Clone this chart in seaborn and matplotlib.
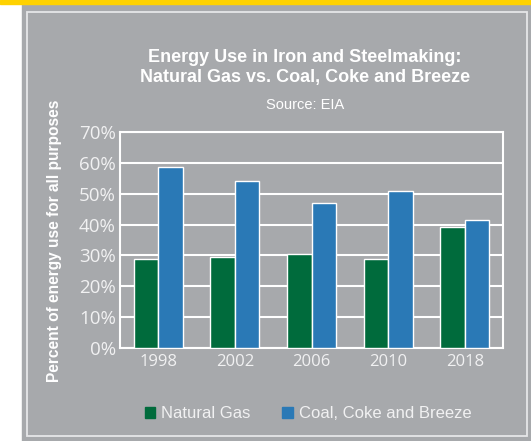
import matplotlib
matplotlib.use("Agg")
import matplotlib.pyplot as plt
import seaborn as sns
import pandas as pd
from matplotlib import font_manager
from matplotlib.patches import Rectangle
from matplotlib.ticker import PercentFormatter

# chart data
years = ["1998", "2002", "2006", "2010", "2018"]
natural_gas = [28.7, 29.5, 30.6, 28.7, 39.1]
coal_coke_breeze = [58.5, 54.0, 47.1, 50.8, 41.6]
series = ["Natural Gas", "Coal, Coke and Breeze"]

GRAY = "#a7a9ac"
GREEN = "#006b3c"
BLUE = "#2a79b6"
YELLOW = "#ffd200"

df = pd.DataFrame({
    "year": years * 2,
    "value": natural_gas + coal_coke_breeze,
    "series": [series[0]] * len(years) + [series[1]] * len(years),
})

names = {f.name for f in font_manager.fontManager.ttflist}
narrow = "Liberation Sans Narrow" in names
title_font = "Liberation Sans Narrow" if narrow else "Liberation Sans"
title_size = 15.5 if narrow else 13
src_size = 13 if narrow else 10.5

sns.set_style("ticks")
plt.rcParams["font.family"] = ["Open Sans", "DejaVu Sans"]

W, H = 531, 441
fig = plt.figure(figsize=(W / 100, H / 100), dpi=100, facecolor="white")

# panel background, yellow strip and inner border
fig.patches.append(Rectangle((22 / W, 0), (W - 22) / W, (H - 4) / H,
                             transform=fig.transFigure, color=GRAY, zorder=-2))
fig.patches.append(Rectangle((0, (H - 4) / H), 1, 4 / H,
                             transform=fig.transFigure, color=YELLOW, zorder=-2))
fig.patches.append(Rectangle((27 / W, (H - 436) / H), 500 / W, 424 / H,
                             transform=fig.transFigure, fill=False,
                             edgecolor="#e6e7e8", lw=1.3, zorder=-1))

ax = fig.add_axes([120 / W, (H - 348) / H, 383 / W, 216 / H])
ax.set_zorder(2)
ax.set_facecolor(GRAY)

sns.barplot(data=df, x="year", y="value", hue="series",
            palette=[GREEN, BLUE], width=0.64, gap=0, saturation=1,
            ax=ax, legend=False, zorder=3)

ax.set_ylim(0, 70)
ax.set_xlim(-0.5, 4.5)
ax.set_yticks(range(0, 71, 10))
ax.yaxis.set_major_formatter(PercentFormatter(decimals=0))
ax.grid(axis="y", color="white", lw=1.5, zorder=0)
ax.set_axisbelow(True)
for s in ax.spines.values():
    s.set_visible(True)
    s.set_color("white")
    s.set_linewidth(1.5)
ax.tick_params(axis="y", length=0, pad=3, labelsize=13.5, labelcolor="#f1f1f2")
ax.tick_params(axis="x", length=0, pad=4, labelsize=12, labelcolor="#f1f1f2")
ax.set_xlabel("")
ax.set_ylabel("")

fig.text(55 / W, (H - 241) / H, "Percent of energy use for all purposes",
         rotation=90, ha="center", va="center", color="white",
         fontsize=11.2, fontweight="bold", family=["Liberation Sans", "DejaVu Sans"])

fig.text(305 / W, (H - 62) / H, "Energy Use in Iron and Steelmaking:",
         ha="center", va="baseline", color="white", fontsize=title_size,
         fontweight="bold", family=[title_font, "DejaVu Sans"])
fig.text(305 / W, (H - 82) / H, "Natural Gas vs. Coal, Coke and Breeze",
         ha="center", va="baseline", color="white", fontsize=title_size,
         fontweight="bold", family=[title_font, "DejaVu Sans"])
fig.text(305 / W, (H - 109) / H, "Source: EIA",
         ha="center", va="baseline", color="white", fontsize=src_size,
         family=[title_font, "DejaVu Sans"])

handles = [Rectangle((0, 0), 1, 1, color=c) for c in (GREEN, BLUE)]
fig.legend(handles, series, loc="center", bbox_to_anchor=(308 / W, (H - 414) / H),
           ncol=2, frameon=False, handlelength=0.65, handleheight=0.65,
           handletextpad=0.35, columnspacing=1.9,
           prop={"family": ["Liberation Sans", "DejaVu Sans"], "size": 12},
           labelcolor="#f1f1f2")

fig.savefig("out.png", dpi=100, facecolor="white")
